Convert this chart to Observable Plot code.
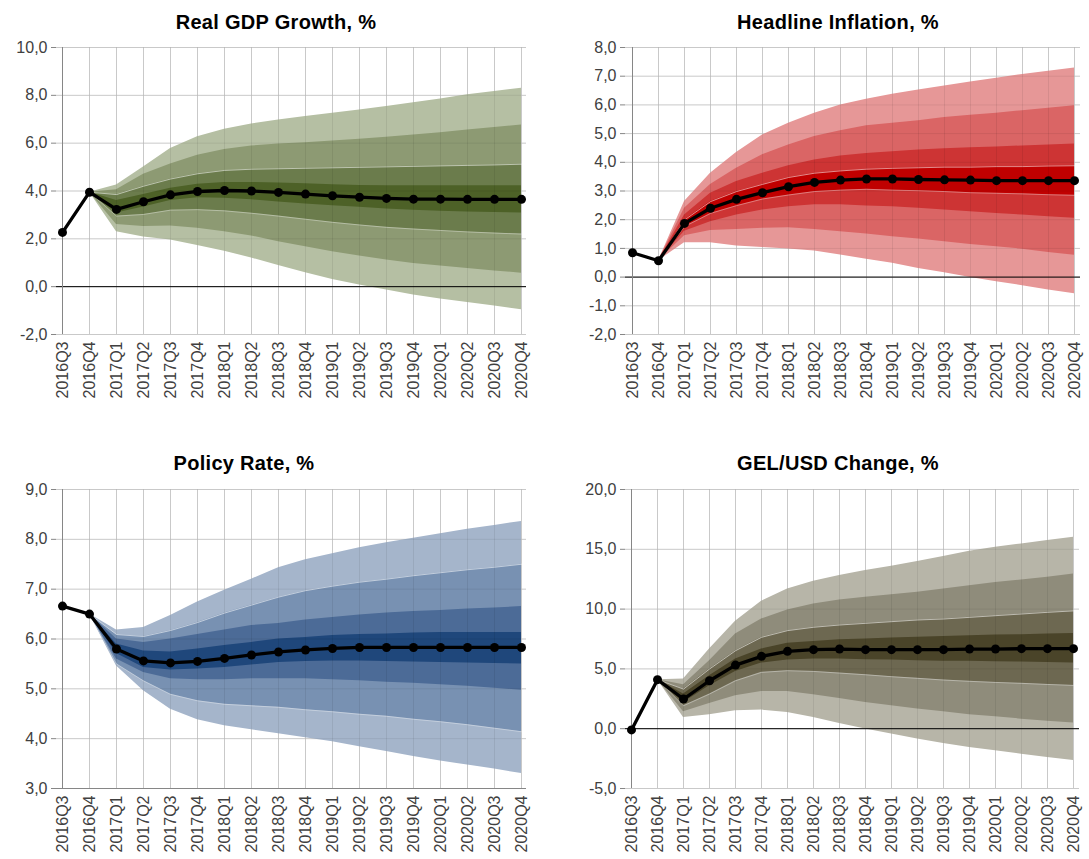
<!DOCTYPE html>
<html><head><meta charset="utf-8">
<script src="https://cdn.jsdelivr.net/npm/d3@7"></script>
<script src="https://cdn.jsdelivr.net/npm/@observablehq/plot@0.6"></script>
<style>
body{margin:0;background:#fff;font-family:"Liberation Sans",Arial,sans-serif;}
#wrap{position:relative;width:1089px;height:859px;overflow:hidden;background:#fff;}
.panel{position:absolute;}
.title{position:absolute;font-weight:bold;font-size:20px;line-height:20px;letter-spacing:0.3px;color:#000;white-space:nowrap;transform:translateX(-50%);}
</style></head><body><div id="wrap"></div>
<script>
const quarters = ["2016Q3","2016Q4","2017Q1","2017Q2","2017Q3","2017Q4","2018Q1","2018Q2","2018Q3","2018Q4","2019Q1","2019Q2","2019Q3","2019Q4","2020Q1","2020Q2","2020Q3","2020Q4"];

// Real GDP Growth
const gdpCentral = [2.27, 3.95, 3.23, 3.55, 3.84, 3.98, 4.02, 4.00, 3.94, 3.87, 3.80, 3.74, 3.69, 3.66, 3.66, 3.65, 3.65, 3.65];
const gdpU4 = [null, 3.95, 4.25, 5.00, 5.78, 6.27, 6.58, 6.80, 6.97, 7.11, 7.25, 7.39, 7.53, 7.69, 7.85, 8.02, 8.16, 8.30];
const gdpU3 = [null, 3.95, 4.05, 4.70, 5.13, 5.50, 5.74, 5.88, 5.97, 6.02, 6.09, 6.16, 6.25, 6.34, 6.44, 6.55, 6.65, 6.76];
const gdpU2 = [null, 3.95, 3.85, 4.20, 4.50, 4.72, 4.86, 4.91, 4.93, 4.95, 4.97, 4.99, 5.01, 5.03, 5.05, 5.07, 5.09, 5.12];
const gdpU1 = [null, 3.95, 3.60, 3.85, 4.12, 4.28, 4.36, 4.36, 4.33, 4.30, 4.26, 4.23, 4.22, 4.22, 4.22, 4.22, 4.22, 4.22];
const gdpL1 = [null, 3.95, 3.08, 3.33, 3.60, 3.72, 3.70, 3.63, 3.54, 3.46, 3.38, 3.32, 3.25, 3.19, 3.15, 3.12, 3.10, 3.08];
const gdpL2 = [null, 3.95, 2.95, 3.02, 3.20, 3.22, 3.17, 3.07, 2.95, 2.82, 2.69, 2.58, 2.48, 2.41, 2.35, 2.29, 2.24, 2.20];
const gdpL3 = [null, 3.95, 2.60, 2.52, 2.54, 2.44, 2.30, 2.12, 1.88, 1.67, 1.46, 1.28, 1.11, 0.97, 0.86, 0.76, 0.66, 0.56];
const gdpL4 = [null, 3.95, 2.30, 2.08, 1.95, 1.72, 1.48, 1.20, 0.88, 0.58, 0.30, 0.07, -0.14, -0.35, -0.52, -0.66, -0.81, -0.96];

// Headline Inflation
const infCentral = [0.85, 0.57, 1.87, 2.40, 2.71, 2.94, 3.15, 3.30, 3.38, 3.42, 3.42, 3.40, 3.39, 3.38, 3.36, 3.36, 3.36, 3.36];
const infU4 = [null, 0.57, 2.63, 3.62, 4.34, 4.95, 5.36, 5.71, 6.00, 6.20, 6.37, 6.52, 6.66, 6.80, 6.93, 7.06, 7.17, 7.29];
const infU3 = [null, 0.57, 2.40, 3.23, 3.79, 4.26, 4.60, 4.90, 5.10, 5.27, 5.36, 5.45, 5.56, 5.64, 5.71, 5.80, 5.88, 5.97];
const infU2 = [null, 0.57, 2.16, 2.92, 3.33, 3.62, 3.88, 4.08, 4.22, 4.31, 4.37, 4.43, 4.47, 4.51, 4.53, 4.57, 4.60, 4.64];
const infU1 = [null, 0.57, 1.99, 2.63, 2.98, 3.23, 3.47, 3.62, 3.70, 3.76, 3.79, 3.81, 3.83, 3.83, 3.85, 3.85, 3.87, 3.88];
const infL1 = [null, 0.57, 1.76, 2.22, 2.49, 2.72, 2.86, 2.98, 3.03, 3.06, 3.03, 3.01, 2.98, 2.94, 2.92, 2.90, 2.87, 2.85];
const infL2 = [null, 0.57, 1.60, 1.93, 2.16, 2.34, 2.45, 2.52, 2.52, 2.48, 2.45, 2.40, 2.34, 2.28, 2.22, 2.16, 2.10, 2.05];
const infL3 = [null, 0.57, 1.44, 1.62, 1.66, 1.70, 1.72, 1.66, 1.58, 1.50, 1.41, 1.33, 1.23, 1.14, 1.06, 0.97, 0.86, 0.76];
const infL4 = [null, 0.57, 1.20, 1.20, 1.08, 1.03, 0.98, 0.91, 0.77, 0.62, 0.48, 0.30, 0.15, -0.01, -0.16, -0.30, -0.45, -0.58];

// Policy Rate
const polCentral = [6.66, 6.50, 5.80, 5.56, 5.52, 5.55, 5.61, 5.68, 5.74, 5.78, 5.81, 5.83, 5.83, 5.83, 5.83, 5.83, 5.83, 5.83];
const polU4 = [null, 6.50, 6.18, 6.23, 6.47, 6.74, 6.98, 7.20, 7.43, 7.59, 7.71, 7.83, 7.93, 8.02, 8.11, 8.20, 8.28, 8.36];
const polU3 = [null, 6.50, 6.09, 6.05, 6.17, 6.33, 6.52, 6.68, 6.84, 6.97, 7.06, 7.14, 7.20, 7.27, 7.33, 7.39, 7.44, 7.50];
const polU2 = [null, 6.50, 6.00, 5.93, 6.00, 6.09, 6.18, 6.27, 6.31, 6.38, 6.43, 6.48, 6.52, 6.55, 6.57, 6.60, 6.62, 6.65];
const polU1 = [null, 6.50, 5.90, 5.76, 5.74, 5.80, 5.87, 5.93, 6.00, 6.03, 6.07, 6.09, 6.10, 6.12, 6.13, 6.13, 6.13, 6.13];
const polL1 = [null, 6.50, 5.71, 5.43, 5.38, 5.40, 5.43, 5.48, 5.53, 5.55, 5.56, 5.56, 5.55, 5.54, 5.53, 5.52, 5.51, 5.50];
const polL2 = [null, 6.50, 5.60, 5.33, 5.20, 5.18, 5.18, 5.20, 5.20, 5.20, 5.18, 5.16, 5.13, 5.11, 5.08, 5.05, 5.01, 4.97];
const polL3 = [null, 6.50, 5.50, 5.16, 4.89, 4.76, 4.69, 4.66, 4.63, 4.58, 4.54, 4.49, 4.45, 4.39, 4.34, 4.28, 4.21, 4.14];
const polL4 = [null, 6.50, 5.46, 4.96, 4.59, 4.38, 4.26, 4.18, 4.10, 4.02, 3.94, 3.84, 3.74, 3.64, 3.55, 3.47, 3.39, 3.30];

// GEL/USD Change
const gelCentral = [-0.10, 4.10, 2.48, 4.01, 5.32, 6.05, 6.47, 6.61, 6.66, 6.61, 6.61, 6.61, 6.61, 6.66, 6.66, 6.69, 6.69, 6.69];
const gelU4 = [null, 4.10, 4.15, 6.66, 8.98, 10.65, 11.69, 12.33, 12.80, 13.22, 13.58, 13.97, 14.39, 14.84, 15.17, 15.45, 15.73, 16.01];
const gelU3 = [null, 4.10, 3.68, 5.69, 7.92, 9.17, 9.93, 10.43, 10.76, 10.99, 11.21, 11.41, 11.69, 11.96, 12.22, 12.44, 12.66, 12.94];
const gelU2 = [null, 4.10, 3.31, 4.99, 6.52, 7.64, 8.20, 8.48, 8.67, 8.81, 8.95, 9.09, 9.17, 9.31, 9.45, 9.59, 9.73, 9.85];
const gelU1 = [null, 4.10, 2.90, 4.43, 5.83, 6.66, 7.14, 7.30, 7.44, 7.50, 7.58, 7.64, 7.70, 7.78, 7.83, 7.86, 7.92, 7.95];
const gelL1 = [null, 4.10, 2.20, 3.59, 4.79, 5.49, 5.74, 5.83, 5.83, 5.77, 5.74, 5.69, 5.65, 5.63, 5.60, 5.57, 5.54, 5.50];
const gelL2 = [null, 4.10, 1.92, 2.90, 4.01, 4.71, 4.85, 4.79, 4.65, 4.51, 4.35, 4.21, 4.07, 3.96, 3.87, 3.79, 3.70, 3.62];
const gelL3 = [null, 4.10, 1.42, 2.11, 2.76, 3.12, 3.12, 2.84, 2.53, 2.20, 1.92, 1.64, 1.42, 1.17, 1.00, 0.80, 0.63, 0.47];
const gelL4 = [null, 4.10, 0.94, 1.17, 1.50, 1.56, 1.36, 0.94, 0.44, -0.03, -0.45, -0.87, -1.23, -1.57, -1.85, -2.13, -2.40, -2.66];

const gdpTicks = [-2, 0, 2, 4, 6, 8, 10];
const infTicks = [-2, -1, 0, 1, 2, 3, 4, 5, 6, 7, 8];
const polTicks = [3, 4, 5, 6, 7, 8, 9];
const gelTicks = [-5, 0, 5, 10, 15, 20];

const panels = [
  {title: "Real GDP Growth, %", tx: 276, ty: 12, left: 0, top: 0, width: 545, height: 430, mL: 56, mR: 19, mT: 47, mB: 96,
   ticks: gdpTicks, central: gdpCentral, u: [gdpU1, gdpU2, gdpU3, gdpU4], l: [gdpL1, gdpL2, gdpL3, gdpL4],
   colors: ["#4d6127", "#6b7c4c", "#8d9a73", "#b5bfa3"], white: [1], zero: true},
  {title: "Headline Inflation, %", tx: 838, ty: 12, left: 545, top: 0, width: 544, height: 430, mL: 80, mR: 9, mT: 47, mB: 96,
   ticks: infTicks, central: infCentral, u: [infU1, infU2, infU3, infU4], l: [infL1, infL2, infL3, infL4],
   colors: ["#c00000", "#cd3434", "#da6565", "#e69797"], white: [0], zero: true},
  {title: "Policy Rate, %", tx: 244, ty: 453, left: 0, top: 430, width: 545, height: 429, mL: 56, mR: 19, mT: 59, mB: 71,
   ticks: polTicks, central: polCentral, u: [polU1, polU2, polU3, polU4], l: [polL1, polL2, polL3, polL4],
   colors: ["#1f477b", "#4c6b97", "#7891b2", "#a5b5cb"], white: [2], zero: false},
  {title: "GEL/USD Change, %", tx: 838, ty: 453, left: 545, top: 430, width: 544, height: 429, mL: 80, mR: 10, mT: 59, mB: 71,
   ticks: gelTicks, central: gelCentral, u: [gelU1, gelU2, gelU3, gelU4], l: [gelL1, gelL2, gelL3, gelL4],
   colors: ["#4a4429", "#6d6851", "#8f8c7b", "#b7b5a8"], white: [1], zero: true}
];

const fmt = d => d.toFixed(1).replace(".", ",");
const wrap = document.getElementById("wrap");

for (const p of panels) {
  const central = quarters.map((q, i) => ({q, v: p.central[i]}));
  const bandRows = k => quarters.map((q, i) => ({q, lo: p.l[k][i], hi: p.u[k][i]})).filter(d => d.lo != null && d.hi != null);
  const bandMarks = [];
  for (let k = 3; k >= 0; k--) {
    bandMarks.push(Plot.areaY(bandRows(k), {x: "q", y1: "lo", y2: "hi", fill: p.colors[k], curve: "linear"}));
  }
  const whiteMarks = [];
  for (const k of p.white) {
    const rows = bandRows(k);
    whiteMarks.push(Plot.line(rows, {x: "q", y: "hi", stroke: "#ffffff", strokeOpacity: 0.55, strokeWidth: 1}));
    whiteMarks.push(Plot.line(rows, {x: "q", y: "lo", stroke: "#ffffff", strokeOpacity: 0.35, strokeWidth: 1}));
  }
  const ymin = p.ticks[0], ymax = p.ticks[p.ticks.length - 1];
  const chart = Plot.plot({
    width: p.width, height: p.height,
    marginLeft: p.mL, marginRight: p.mR, marginTop: p.mT, marginBottom: p.mB,
    style: {fontFamily: "'Liberation Sans', Arial, sans-serif", fontSize: "16px", color: "#404040", background: "transparent"},
    x: {type: "point", domain: quarters, padding: 0, axis: null},
    y: {domain: [ymin, ymax], axis: null},
    marks: [
      Plot.ruleY(p.ticks, {stroke: "#d9d9d9"}),
      Plot.ruleX(quarters, {stroke: "#d9d9d9"}),
      ...bandMarks,
      Plot.ruleY(p.ticks, {stroke: "#000", strokeOpacity: 0.07}),
      Plot.ruleX(quarters, {stroke: "#000", strokeOpacity: 0.07}),
      ...whiteMarks,
      p.zero ? Plot.ruleY([0], {stroke: "#000", strokeWidth: 1}) : null,
      p.zero ? null : Plot.ruleY([ymin], {stroke: "#868686", strokeWidth: 1}),
      Plot.ruleX([quarters[0]], {stroke: "#868686", strokeWidth: 1}),
      Plot.axisY({ticks: p.ticks, tickFormat: fmt, tickSize: 5, tickPadding: 4, stroke: "#868686", fill: "#404040", fontSize: 16, label: null}),
      Plot.axisX({tickRotate: -90, tickSize: 0, tickPadding: 7, fill: "#404040", fontSize: 16, label: null}),
      Plot.line(central, {x: "q", y: "v", stroke: "#000", strokeWidth: 3.3}),
      Plot.dot(central, {x: "q", y: "v", r: 4.5, fill: "#000", stroke: "none"})
    ]
  });
  chart.classList.add("panel");
  chart.style.left = p.left + "px";
  chart.style.top = p.top + "px";
  chart.style.overflow = "hidden";
  wrap.appendChild(chart);
  const t = document.createElement("div");
  t.className = "title";
  t.textContent = p.title;
  t.style.left = p.tx + "px";
  t.style.top = p.ty + "px";
  wrap.appendChild(t);
}
</script>
</body></html>
